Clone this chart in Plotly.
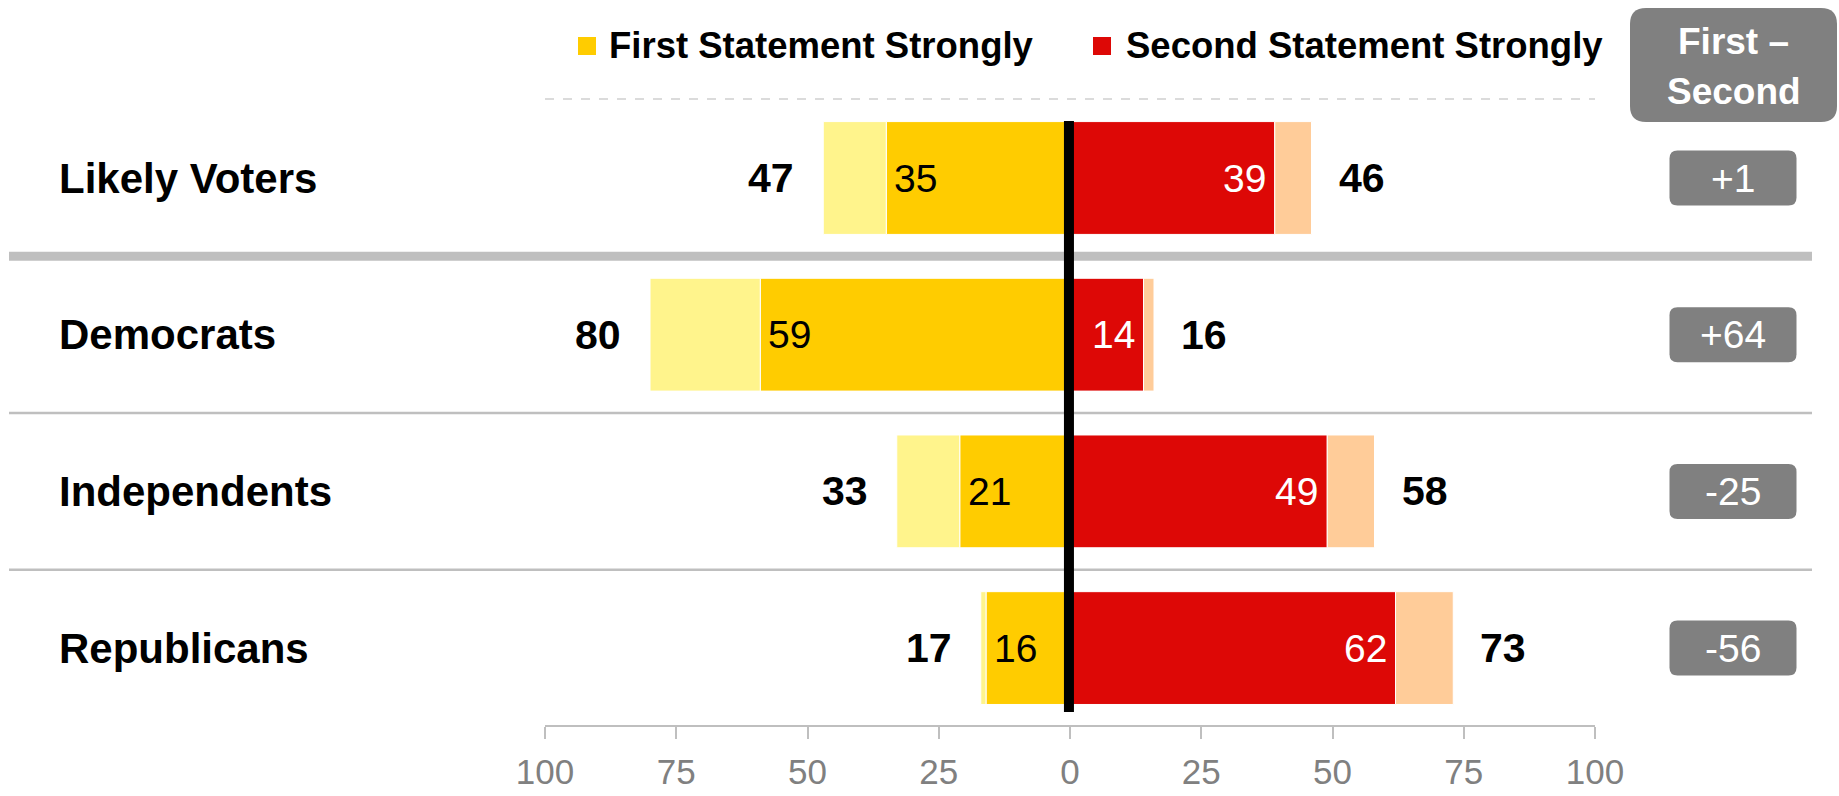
import plotly.graph_objects as go

# ---------------- data ----------------
categories = ["Likely Voters", "Democrats", "Independents", "Republicans"]
first_total = [47, 80, 33, 17]
first_strong = [35, 59, 21, 16]
second_strong = [39, 14, 49, 62]
second_total = [46, 16, 58, 73]
net_labels = ["+1", "+64", "-25", "-56"]
tick_values = [-100, -75, -50, -25, 0, 25, 50, 75, 100]
tick_labels = ["100", "75", "50", "25", "0", "25", "50", "75", "100"]
legend_labels = ["First Statement Strongly", "Second Statement Strongly"]
header_lines = ["First –", "Second"]

# ---------------- style ----------------
W, H = 1839, 796
FONT = "Arial, 'Liberation Sans', sans-serif"
C_FS = "#FFCC00"
C_FO = "#FFF48C"
C_SS = "#DD0806"
C_SO = "#FFCC99"
GRID = "#BFBFBF"
BOXC = "#808080"

# y axis pixel mapping: plot area from top 0 to 725 px
Y_TOP_V = -1.136
Y_BOT_V = 3.491


def px_to_v(py):
    return Y_TOP_V + py / 725.0 * (Y_BOT_V - Y_TOP_V)


fig = go.Figure()
bw = 0.72
fig.add_bar(y=categories, x=[-v for v in first_strong], orientation="h", width=bw,
            marker=dict(color=C_FS, line=dict(color="white", width=1)),
            name=legend_labels[0], showlegend=False)
fig.add_bar(y=categories, x=[-(t - s) for t, s in zip(first_total, first_strong)],
            orientation="h", width=bw,
            marker=dict(color=C_FO, line=dict(color="white", width=1)),
            name="First Statement (other)", showlegend=False)
fig.add_bar(y=categories, x=second_strong, orientation="h", width=bw,
            marker=dict(color=C_SS, line=dict(color="white", width=1)),
            name=legend_labels[1], showlegend=False)
fig.add_bar(y=categories, x=[t - s for t, s in zip(second_total, second_strong)],
            orientation="h", width=bw,
            marker=dict(color=C_SO, line=dict(color="white", width=1)),
            name="Second Statement (other)", showlegend=False)

annotations = []
shapes = []


def rounded_path(w, h, r):
    a, b = w / 2.0, h / 2.0
    return (f"M {-a + r},{-b} L {a - r},{-b} Q {a},{-b} {a},{-b + r} "
            f"L {a},{b - r} Q {a},{b} {a - r},{b} L {-a + r},{b} "
            f"Q {-a},{b} {-a},{b - r} L {-a},{-b + r} Q {-a},{-b} {-a + r},{-b} Z")


for i, cat in enumerate(categories):
    # category label
    annotations.append(dict(x=57 / W, xref="paper", y=cat, yref="y", xanchor="left",
                            yanchor="middle", text=f"<b>{cat}</b>", showarrow=False,
                            font=dict(family=FONT, size=42, color="black")))
    # outside totals
    annotations.append(dict(x=-first_total[i], y=cat, xanchor="right", yanchor="middle",
                            xshift=-27, text=f"<b>{first_total[i]}</b>", showarrow=False,
                            font=dict(family=FONT, size=41, color="black")))
    annotations.append(dict(x=second_total[i], y=cat, xanchor="left", yanchor="middle",
                            xshift=25, text=f"<b>{second_total[i]}</b>", showarrow=False,
                            font=dict(family=FONT, size=41, color="black")))
    # inside strongly values
    annotations.append(dict(x=-first_strong[i], y=cat, xanchor="left", yanchor="middle",
                            xshift=6, text=str(first_strong[i]), showarrow=False,
                            font=dict(family=FONT, size=39, color="black")))
    annotations.append(dict(x=second_strong[i], y=cat, xanchor="right", yanchor="middle",
                            xshift=-7, text=str(second_strong[i]), showarrow=False,
                            font=dict(family=FONT, size=39, color="white")))
    # net boxes
    shapes.append(dict(type="path", xref="paper", yref="y", xsizemode="pixel",
                       ysizemode="pixel", xanchor=1733 / W, yanchor=i,
                       path=rounded_path(127, 55, 8), fillcolor=BOXC,
                       line=dict(width=0), layer="above"))
    annotations.append(dict(x=1733 / W, xref="paper", y=cat, yref="y", xanchor="center",
                            yanchor="middle", text=net_labels[i], showarrow=False,
                            font=dict(family=FONT, size=39, color="white")))

# separators
shapes.append(dict(type="line", xref="paper", yref="y", x0=9 / W, x1=1812 / W,
                   y0=0.5, y1=0.5, line=dict(color=GRID, width=9), layer="below"))
for yv in (1.5, 2.5):
    shapes.append(dict(type="line", xref="paper", yref="y", x0=9 / W, x1=1812 / W,
                       y0=yv, y1=yv, line=dict(color=GRID, width=2.5), layer="below"))
# dashed line under legend
shapes.append(dict(type="line", xref="paper", yref="paper", x0=545 / W, x1=1595 / W,
                   y0=1 - 99 / H, y1=1 - 99 / H,
                   line=dict(color="#CFCFCF", width=1.5, dash="dash")))
# zero line
shapes.append(dict(type="line", xref="x", yref="y", x0=-0.2, x1=-0.2,
                   y0=px_to_v(121), y1=px_to_v(712),
                   line=dict(color="black", width=10), layer="above"))
# header box
shapes.append(dict(type="path", xref="paper", yref="paper", xsizemode="pixel",
                   ysizemode="pixel", xanchor=1733.5 / W, yanchor=1 - 65 / H,
                   path=rounded_path(207, 114, 16), fillcolor=BOXC, line=dict(width=0)))
for line_txt, cy in zip(header_lines, (42, 92)):
    annotations.append(dict(x=1733.5 / W, xref="paper", y=1 - cy / H, yref="paper",
                            xanchor="center", yanchor="middle", text=f"<b>{line_txt}</b>",
                            showarrow=False, font=dict(family=FONT, size=37, color="white")))

# legend (manual)
for (sx, tx, col, lab) in ((578, 607, C_FS, legend_labels[0]),
                          (1093, 1124, C_SS, legend_labels[1])):
    shapes.append(dict(type="rect", xref="paper", yref="paper", x0=sx / W, x1=(sx + 18) / W,
                       y0=1 - 55 / H, y1=1 - 37 / H, fillcolor=col, line=dict(width=0)))
    annotations.append(dict(x=tx / W, xref="paper", y=1 - 46 / H, yref="paper",
                            xanchor="left", yanchor="middle", text=f"<b>{lab}</b>",
                            showarrow=False, font=dict(family=FONT, size=36.5, color="black")))

fig.update_layout(
    width=W, height=H, autosize=False,
    margin=dict(l=0, r=0, t=0, b=0, pad=0, autoexpand=False),
    paper_bgcolor="white", plot_bgcolor="white",
    barmode="relative",
    showlegend=False,
    annotations=annotations,
    shapes=shapes,
    xaxis=dict(domain=[545 / W, 1595 / W], range=[-100, 100], tickvals=tick_values,
               ticktext=tick_labels, showgrid=False, zeroline=False, showline=True,
               linecolor=GRID, linewidth=2, ticks="outside", ticklen=12, tickwidth=2,
               tickcolor=GRID, ticklabelstandoff=3, automargin=False,
               tickfont=dict(family=FONT, size=35, color="#808080"), fixedrange=True),
    yaxis=dict(domain=[1 - 725 / H, 1], type="category", categoryarray=categories,
               range=[Y_BOT_V, Y_TOP_V], showgrid=False, zeroline=False, showline=False,
               showticklabels=False, ticks="", fixedrange=True, automargin=False),
)

fig.write_html("out.html", config={"responsive": False, "displayModeBar": False})

# remove default page margins so the figure sits exactly in the window
with open("out.html", "r", encoding="utf-8") as f:
    html = f.read()
html = html.replace("<head>", "<head><style>html,body{margin:0;padding:0;overflow:hidden;}</style>", 1)
with open("out.html", "w", encoding="utf-8") as f:
    f.write(html)
